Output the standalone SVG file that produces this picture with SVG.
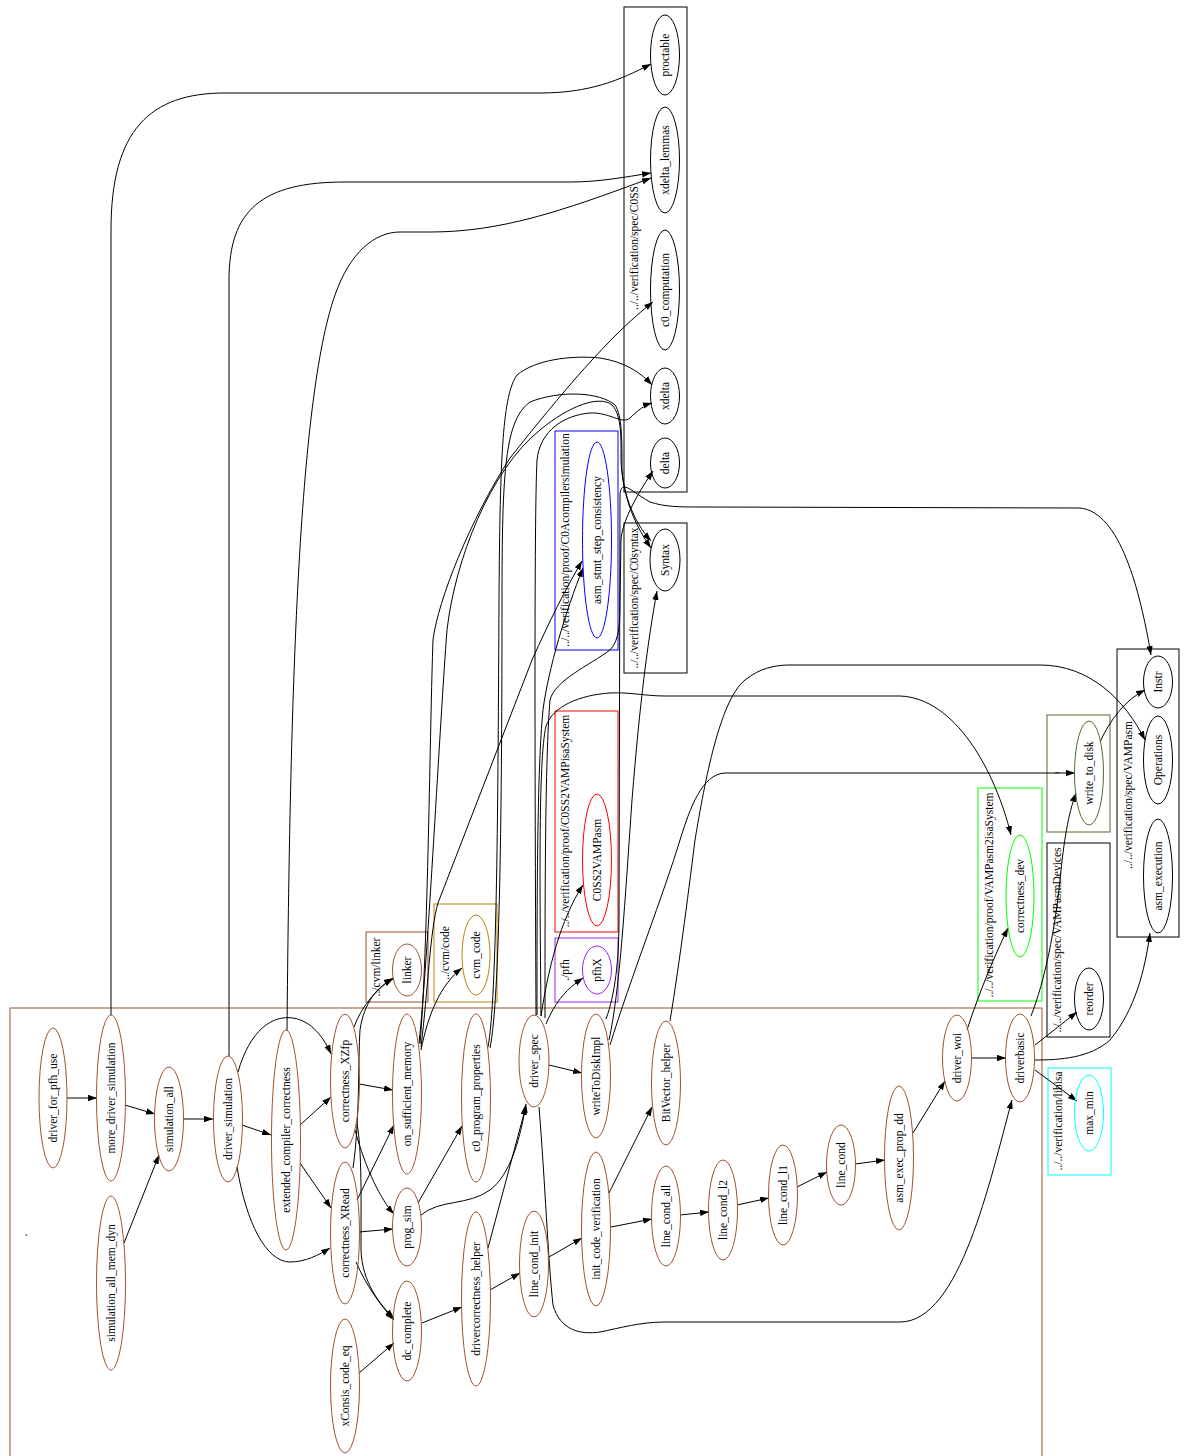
<svg xmlns="http://www.w3.org/2000/svg" width="1192" height="1456" viewBox="0 0 1192 1456">
<style>
text{font-family:"Liberation Serif","Times New Roman",serif;font-size:11.5px;fill:#000;text-anchor:middle;dominant-baseline:central}
.n ellipse{fill:none;stroke:#a0522d;stroke-width:1}
.k ellipse{fill:none;stroke:#000;stroke-width:1}
.c rect{fill:none;stroke-width:1}
#edges path{fill:none;stroke:#000;stroke-width:1;marker-end:url(#ah)}
</style>
<defs>
<marker id="ah" markerWidth="10" markerHeight="8" refX="9" refY="3.2" orient="auto" markerUnits="userSpaceOnUse"><path d="M0,0 L9,3.2 L0,6.4 z" fill="#000"/></marker>
</defs>
<rect width="1192" height="1456" fill="#fff"/>

<!-- clusters -->
<g id="cluster_main" class="c"><rect x="10" y="1008" width="1032" height="470" stroke="#a0522d"/><text transform="translate(23,1235) rotate(-90)">.</text></g>
<g id="cluster_linker" class="c"><rect x="366" y="932" width="62" height="70" stroke="#a0522d"/><text transform="translate(376,967) rotate(-90)">../cvm/linker</text></g>
<g id="cluster_code" class="c"><rect x="434" y="904" width="63" height="98" stroke="#b8860b"/><text transform="translate(445,953) rotate(-90)">../cvm/code</text></g>
<g id="cluster_pfh" class="c"><rect x="555" y="938" width="63" height="64" stroke="#a020f0"/><text transform="translate(565,970) rotate(-90)">./pfh</text></g>
<g id="cluster_c0ss2vamp" class="c"><rect x="555" y="711" width="63" height="221" stroke="#ff0000"/><text transform="translate(565,821) rotate(-90)">../../verification/proof/C0SS2VAMPisaSystem</text></g>
<g id="cluster_c0acomp" class="c"><rect x="555" y="431" width="63" height="219" stroke="#0000ff"/><text transform="translate(565,540) rotate(-90)">../../verification/proof/C0Acompilersimulation</text></g>
<g id="cluster_c0syntax" class="c"><rect x="624" y="523" width="63" height="150" stroke="#000"/><text transform="translate(634,598) rotate(-90)">../../verification/spec/C0syntax</text></g>
<g id="cluster_c0ss" class="c"><rect x="624" y="7" width="63" height="485" stroke="#000"/><text transform="translate(634,248) rotate(-90)">../../verification/spec/C0SS</text></g>
<g id="cluster_vamp2isa" class="c"><rect x="978" y="788" width="64" height="213" stroke="#00ff00"/><text transform="translate(989,895) rotate(-90)">../../verification/proof/VAMPasm2isaSystem</text></g>
<g id="cluster_wtd" class="c"><rect x="1047" y="715" width="63" height="117" stroke="#556b2f"/><text transform="translate(1057,773) rotate(-90)" style="font-size:7px">1</text></g>
<g id="cluster_vampdev" class="c"><rect x="1047" y="843" width="63" height="194" stroke="#000"/><text transform="translate(1057,940) rotate(-90)">../../verification/spec/VAMPasmDevices</text></g>
<g id="cluster_libisa" class="c"><rect x="1048" y="1068" width="63" height="107" stroke="#00ffff"/><text transform="translate(1058,1121) rotate(-90)">../../verification/libisa</text></g>
<g id="cluster_vampasm" class="c"><rect x="1117" y="649" width="62" height="288" stroke="#000"/><text transform="translate(1128,795) rotate(-90)">../../verification/spec/VAMPasm</text></g>

<!-- edges -->
<g id="edges">
<path d="M67,1098 L97,1098"/>
<path d="M125,1105 L155,1114"/>
<path d="M124,1243 L159,1155"/>
<path d="M183,1119 L213,1119"/>
<path d="M242,1125 L271,1135"/>
<path d="M238,1072 C250,1030 272,1015 293,1018 C312,1021 324,1038 331,1054"/>
<path d="M237,1167 C246,1222 266,1262 290,1262 C305,1262 319,1255 330,1248"/>
<path d="M300,1125 L331,1097"/>
<path d="M300,1163 L331,1208"/>
<path d="M359,1084 L393,1090"/>
<path d="M355,1130 C366,1170 381,1200 394,1214"/>
<path d="M357,1124 C362,1150 361,1200 361,1250 C362,1282 380,1305 394,1318"/>
<path d="M354,1027 C362,1005 378,988 393,978"/>
<path d="M353,1168 C360,1120 358,1060 360,1030 C364,1002 378,986 393,979"/>
<path d="M357,1200 L394,1125"/>
<path d="M359,1232 L393,1229"/>
<path d="M356,1262 C366,1285 380,1305 394,1320"/>
<path d="M359,1373 L394,1343"/>
<path d="M418,1203 L462,1126"/>
<path d="M421,1215 C440,1199 468,1206 490,1190 C510,1175 520,1140 526,1104"/>
<path d="M422,1323 L462,1307"/>
<path d="M488,1248 L526,1106"/>
<path d="M490,1290 L520,1273"/>
<path d="M549,1257 L582,1238"/>
<path d="M549,1065 L582,1073"/>
<path d="M539,1107 C545,1180 548,1260 553,1305 C560,1330 580,1335 600,1332 C620,1328 640,1322 665,1322 L900,1322 C960,1322 990,1180 1012,1100"/>
<path d="M609,1193 L652,1107"/>
<path d="M611,1227 L652,1219"/>
<path d="M680,1215 L709,1212"/>
<path d="M737,1205 L769,1198"/>
<path d="M797,1187 L827,1172"/>
<path d="M855,1164 L885,1160"/>
<path d="M913,1133 L945,1081"/>
<path d="M972,1058 L1006,1058"/>
<path d="M967,1030 C980,990 995,955 1008,928"/>
<path d="M1035,1045 L1077,1012"/>
<path d="M1035,1070 L1077,1101"/>
<path d="M1035,1060 C1060,1060 1090,1058 1110,1040 C1135,1010 1145,970 1150,933"/>
<path d="M1031,1016 C1045,980 1055,930 1060,880 C1064,840 1068,815 1076,793"/>
<path d="M1100,742 C1110,720 1125,700 1145,690"/>
<path d="M610,1045 C630,980 665,890 680,840 C690,808 702,774 725,773 L1075,773"/>
<path d="M670,1021 C680,960 690,880 695,840 C705,780 720,700 745,680 C760,668 775,665 790,665 L1040,665 C1090,665 1125,700 1145,740"/>
<path d="M541,1016 C540,900 538,760 546,726 C553,706 580,695 610,693 C630,692 645,696 665,696 L900,696 C955,698 995,770 1011,835"/>
<path d="M541,1016 C548,970 560,920 583,885"/>
<path d="M546,1024 C556,1000 568,988 583,978"/>
<path d="M421,1050 C428,1015 440,985 462,968"/>
<path d="M609,1040 C620,990 625,900 632,800 C640,700 648,640 657,591"/>
<path d="M606,1019 C615,995 619,960 619,920 L620,495 C621,478 632,492 650,502 C665,507 680,507 700,507 L1080,508 C1120,512 1140,590 1151,655"/>
<path d="M111,1015 L111,230 C111,130 150,93 225,93 L540,93 C590,93 620,80 651,64"/>
<path d="M229,1056 L229,280 C229,210 262,182 345,182 L570,182 C600,182 625,177 651,173"/>
<path d="M287,1031 C290,700 298,400 335,295 C350,252 375,232 400,232 L430,232 C500,232 560,212 651,178"/>
<path d="M421,1047 C428,990 430,930 438,903 L532,660 C550,620 565,590 582,561"/>
<path d="M537,1015 C537,900 537,770 543,710 C548,670 566,610 583,568"/>
<path d="M420,1044 C428,950 430,720 433,640 C438,600 470,520 510,458 C560,395 610,335 653,302"/>
<path d="M419,1043 C428,960 440,720 447,630 C455,560 490,470 540,430 C570,405 600,395 612,405 C622,415 621,440 621,460 C622,490 632,520 651,541"/>
<path d="M490,1048 C500,1000 502,800 502,600 C502,470 505,420 530,402 C560,390 600,392 615,405 C622,415 622,440 622,470 C624,500 636,527 651,548"/>
<path d="M488,1047 C497,1000 498,800 499,600 C500,450 503,395 517,375 C535,360 570,355 600,358 C625,362 640,372 652,385"/>
<path d="M536,1015 C535,800 534,520 537,460 C540,430 565,415 590,413 C610,412 622,425 630,418 C638,410 645,405 652,403"/>
<path d="M545,1018 C545,900 545,760 550,700 C555,680 590,665 610,650 C620,640 620,620 620,600 L621,540 C622,520 640,490 653,471"/>
</g>

<!-- nodes: main cluster -->
<g id="driver_for_pfh_use" class="n"><ellipse cx="53" cy="1098" rx="14" ry="70"/><text transform="translate(53,1098) rotate(-90)">driver_for_pfh_use</text></g>
<g id="more_driver_simulation" class="n"><ellipse cx="111" cy="1098" rx="14.5" ry="83"/><text transform="translate(111,1098) rotate(-90)">more_driver_simulation</text></g>
<g id="simulation_all" class="n"><ellipse cx="169" cy="1119" rx="14.5" ry="52"/><text transform="translate(169,1119) rotate(-90)">simulation_all</text></g>
<g id="simulation_all_mem_dyn" class="n"><ellipse cx="111" cy="1283" rx="14.5" ry="87"/><text transform="translate(111,1283) rotate(-90)">simulation_all_mem_dyn</text></g>
<g id="driver_simulation" class="n"><ellipse cx="228" cy="1119" rx="14.5" ry="63"/><text transform="translate(228,1119) rotate(-90)">driver_simulation</text></g>
<g id="extended_compiler_correctness" class="n"><ellipse cx="286" cy="1140" rx="14.5" ry="110"/><text transform="translate(286,1140) rotate(-90)">extended_compiler_correctness</text></g>
<g id="correctness_XZfp" class="n"><ellipse cx="345" cy="1081" rx="14.5" ry="67"/><text transform="translate(345,1081) rotate(-90)">correctness_XZfp</text></g>
<g id="correctness_XRead" class="n"><ellipse cx="345" cy="1233" rx="14.5" ry="71"/><text transform="translate(345,1233) rotate(-90)">correctness_XRead</text></g>
<g id="xConsis_code_eq" class="n"><ellipse cx="345" cy="1386" rx="14.5" ry="67"/><text transform="translate(345,1386) rotate(-90)">xConsis_code_eq</text></g>
<g id="on_sufficient_memory" class="n"><ellipse cx="407" cy="1094" rx="14.5" ry="80"/><text transform="translate(407,1094) rotate(-90)">on_sufficient_memory</text></g>
<g id="prog_sim" class="n"><ellipse cx="407" cy="1227" rx="14.5" ry="39"/><text transform="translate(407,1227) rotate(-90)">prog_sim</text></g>
<g id="dc_complete" class="n"><ellipse cx="407" cy="1331" rx="14.5" ry="50"/><text transform="translate(407,1331) rotate(-90)">dc_complete</text></g>
<g id="c0_program_properties" class="n"><ellipse cx="476" cy="1098" rx="14.5" ry="84"/><text transform="translate(476,1098) rotate(-90)">c0_program_properties</text></g>
<g id="drivercorrectness_helper" class="n"><ellipse cx="476" cy="1299" rx="14.5" ry="87"/><text transform="translate(476,1299) rotate(-90)">drivercorrectness_helper</text></g>
<g id="driver_spec" class="n"><ellipse cx="534" cy="1061" rx="15" ry="46"/><text transform="translate(534,1061) rotate(-90)">driver_spec</text></g>
<g id="line_cond_init" class="n"><ellipse cx="534" cy="1264" rx="14.5" ry="53"/><text transform="translate(534,1264) rotate(-90)">line_cond_init</text></g>
<g id="writeToDiskImpl" class="n"><ellipse cx="596" cy="1076" rx="14.5" ry="62"/><text transform="translate(596,1076) rotate(-90)">writeToDiskImpl</text></g>
<g id="init_code_verification" class="n"><ellipse cx="596" cy="1229" rx="14.5" ry="77"/><text transform="translate(596,1229) rotate(-90)">init_code_verification</text></g>
<g id="BitVector_helper" class="n"><ellipse cx="666" cy="1083" rx="14.5" ry="62"/><text transform="translate(666,1083) rotate(-90)">BitVector_helper</text></g>
<g id="line_cond_all" class="n"><ellipse cx="666" cy="1216" rx="14.5" ry="50"/><text transform="translate(666,1216) rotate(-90)">line_cond_all</text></g>
<g id="line_cond_l2" class="n"><ellipse cx="723" cy="1210" rx="14.5" ry="50"/><text transform="translate(723,1210) rotate(-90)">line_cond_l2</text></g>
<g id="line_cond_l1" class="n"><ellipse cx="783" cy="1195" rx="14.5" ry="50"/><text transform="translate(783,1195) rotate(-90)">line_cond_l1</text></g>
<g id="line_cond" class="n"><ellipse cx="841" cy="1165" rx="14.5" ry="40"/><text transform="translate(841,1165) rotate(-90)">line_cond</text></g>
<g id="asm_exec_prop_dd" class="n"><ellipse cx="899" cy="1158" rx="14.5" ry="72"/><text transform="translate(899,1158) rotate(-90)">asm_exec_prop_dd</text></g>
<g id="driver_woi" class="n"><ellipse cx="957" cy="1058" rx="14.5" ry="43"/><text transform="translate(957,1058) rotate(-90)">driver_woi</text></g>
<g id="driverbasic" class="n"><ellipse cx="1020" cy="1058" rx="14.5" ry="44"/><text transform="translate(1020,1058) rotate(-90)">driverbasic</text></g>

<!-- other clusters' nodes -->
<g id="linker" class="n"><ellipse cx="407" cy="970" rx="14.5" ry="26"/><text transform="translate(407,970) rotate(-90)">linker</text></g>
<g id="cvm_code"><ellipse cx="476" cy="955" rx="14" ry="40" fill="none" stroke="#b8860b"/><text transform="translate(476,955) rotate(-90)">cvm_code</text></g>
<g id="pfhX"><ellipse cx="597" cy="970" rx="14.5" ry="24" fill="none" stroke="#a020f0"/><text transform="translate(597,970) rotate(-90)">pfhX</text></g>
<g id="C0SS2VAMPasm"><ellipse cx="597" cy="860" rx="14.5" ry="66" fill="none" stroke="#ff0000"/><text transform="translate(597,860) rotate(-90)">C0SS2VAMPasm</text></g>
<g id="asm_stmt_step_consistency"><ellipse cx="597" cy="540" rx="14.5" ry="98" fill="none" stroke="#0000ff"/><text transform="translate(597,540) rotate(-90)">asm_stmt_step_consistency</text></g>
<g id="Syntax" class="k"><ellipse cx="665" cy="560" rx="15" ry="31"/><text transform="translate(665,560) rotate(-90)">Syntax</text></g>
<g id="proctable" class="k"><ellipse cx="665" cy="55" rx="14.5" ry="40"/><text transform="translate(665,55) rotate(-90)">proctable</text></g>
<g id="xdelta_lemmas" class="k"><ellipse cx="665" cy="160" rx="14.5" ry="53"/><text transform="translate(665,160) rotate(-90)">xdelta_lemmas</text></g>
<g id="c0_computation" class="k"><ellipse cx="665" cy="290" rx="14.5" ry="60"/><text transform="translate(665,290) rotate(-90)">c0_computation</text></g>
<g id="xdelta" class="k"><ellipse cx="665" cy="396" rx="14.5" ry="28"/><text transform="translate(665,396) rotate(-90)">xdelta</text></g>
<g id="delta" class="k"><ellipse cx="665" cy="463" rx="14.5" ry="25"/><text transform="translate(665,463) rotate(-90)">delta</text></g>
<g id="correctness_dev"><ellipse cx="1020" cy="896" rx="14" ry="61" fill="none" stroke="#00ff00"/><text transform="translate(1020,896) rotate(-90)">correctness_dev</text></g>
<g id="write_to_disk"><ellipse cx="1089" cy="773" rx="14.5" ry="52" fill="none" stroke="#556b2f"/><text transform="translate(1089,773) rotate(-90)">write_to_disk</text></g>
<g id="reorder" class="k"><ellipse cx="1089" cy="999" rx="14.5" ry="31"/><text transform="translate(1089,999) rotate(-90)">reorder</text></g>
<g id="max_min"><ellipse cx="1089" cy="1113" rx="14.5" ry="38" fill="none" stroke="#00ffff"/><text transform="translate(1089,1113) rotate(-90)">max_min</text></g>
<g id="Instr" class="k"><ellipse cx="1158" cy="682" rx="14.5" ry="26"/><text transform="translate(1158,682) rotate(-90)">Instr</text></g>
<g id="Operations" class="k"><ellipse cx="1158" cy="760" rx="14.5" ry="44"/><text transform="translate(1158,760) rotate(-90)">Operations</text></g>
<g id="asm_execution" class="k"><ellipse cx="1158" cy="876" rx="14.5" ry="57"/><text transform="translate(1158,876) rotate(-90)">asm_execution</text></g>
</svg>
